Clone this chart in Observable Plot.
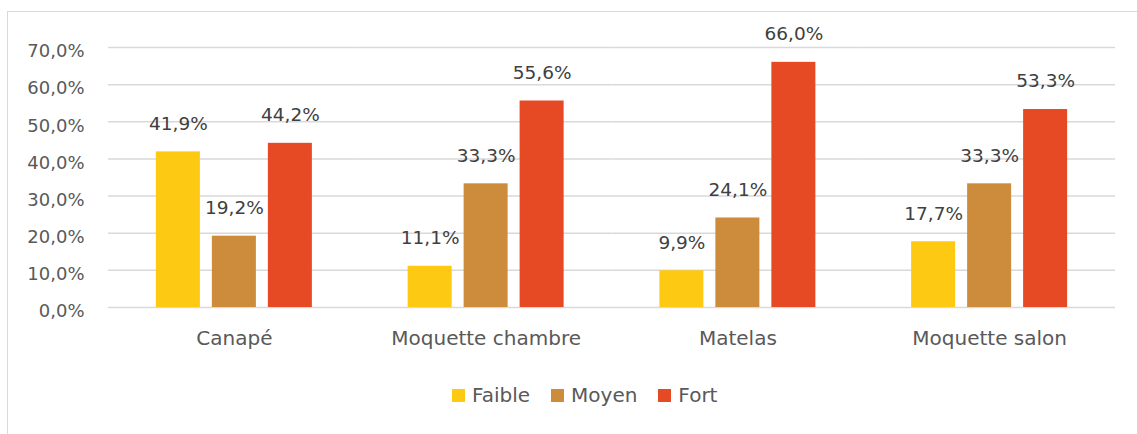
<!DOCTYPE html>
<html>
<head>
<meta charset="utf-8">
<script src="https://cdn.jsdelivr.net/npm/d3@7"></script>
<script src="https://cdn.jsdelivr.net/npm/@observablehq/plot@0.6"></script>
<style>
  html, body { margin: 0; padding: 0; background: #fff; }
  #wrap { position: relative; width: 1137px; height: 434px; overflow: hidden; font-family: "DejaVu Sans", sans-serif; }
  #frame { position: absolute; left: 7px; top: 11px; width: 1140px; height: 440px; border-top: 1.5px solid #d9d9d9; border-left: 1.5px solid #d9d9d9; box-sizing: border-box; }
  #chart { position: absolute; left: 0; top: 0; }
  #legend { position: absolute; left: 452px; top: 383px; display: flex; align-items: center; font-size: 20px; color: #595959; }
  #legend .item { display: flex; align-items: center; margin-right: 21px; }
  #legend .sw { width: 13px; height: 13px; margin-right: 7px; }
</style>
</head>
<body>
<div id="wrap">
  <div id="frame"></div>
  <div id="chart"></div>
  <div id="legend"></div>
</div>
<script>
const categories = ["Canapé", "Moquette chambre", "Matelas", "Moquette salon"];
const series = ["Faible", "Moyen", "Fort"];
const faible = [41.9, 11.1, 9.9, 17.7];
const moyen = [19.2, 33.3, 24.1, 33.3];
const fort = [44.2, 55.6, 66.0, 53.3];
const colors = ["#fdc913", "#cd8c3b", "#e64a25"];
const yTicks = [0, 10, 20, 30, 40, 50, 60, 70];

const values = [faible, moyen, fort];
const data = [];
categories.forEach((c, i) => {
  series.forEach((s, j) => data.push({category: c, series: s, value: values[j][i]}));
});
const fmt = v => v.toFixed(1).replace(".", ",") + "%";

const chart = Plot.plot({
  width: 1137,
  height: 360,
  marginLeft: 108,
  marginRight: 22,
  marginTop: 47,
  marginBottom: 53,
  style: { fontFamily: "DejaVu Sans, sans-serif", background: "transparent", overflow: "visible" },
  fx: { domain: categories, padding: 0, axis: null, round: false },
  x: { domain: series, paddingInner: 0.214, paddingOuter: 0.855, axis: null, round: false },
  y: { domain: [0, 70], axis: null },
  color: { domain: series, range: colors },
  marks: [
    Plot.ruleY(yTicks, { stroke: "#d9d9d9", strokeWidth: 1.5 }),
    Plot.axisY({ ticks: yTicks, tickSize: 0, tickPadding: 24, tickFormat: fmt, fontSize: 18, fill: "#595959", dy: 4, label: null }),
    Plot.barY(data, { fx: "category", x: "series", y: "value", fill: "series" }),
    Plot.text(data, { fx: "category", x: "series", y: "value", text: d => fmt(d.value), dy: -28, lineAnchor: "middle", fontSize: 18.5, fill: "#404040" }),
    Plot.text(categories, { fx: d => d, text: d => d, frameAnchor: "bottom", dy: 31, lineAnchor: "middle", fontSize: 20, fill: "#595959" })
  ]
});
document.getElementById("chart").appendChild(chart);

const legend = document.getElementById("legend");
series.forEach((s, j) => {
  const item = document.createElement("div");
  item.className = "item";
  const sw = document.createElement("div");
  sw.className = "sw";
  sw.style.background = colors[j];
  const label = document.createElement("span");
  label.textContent = s;
  item.appendChild(sw);
  item.appendChild(label);
  legend.appendChild(item);
});
</script>
</body>
</html>
